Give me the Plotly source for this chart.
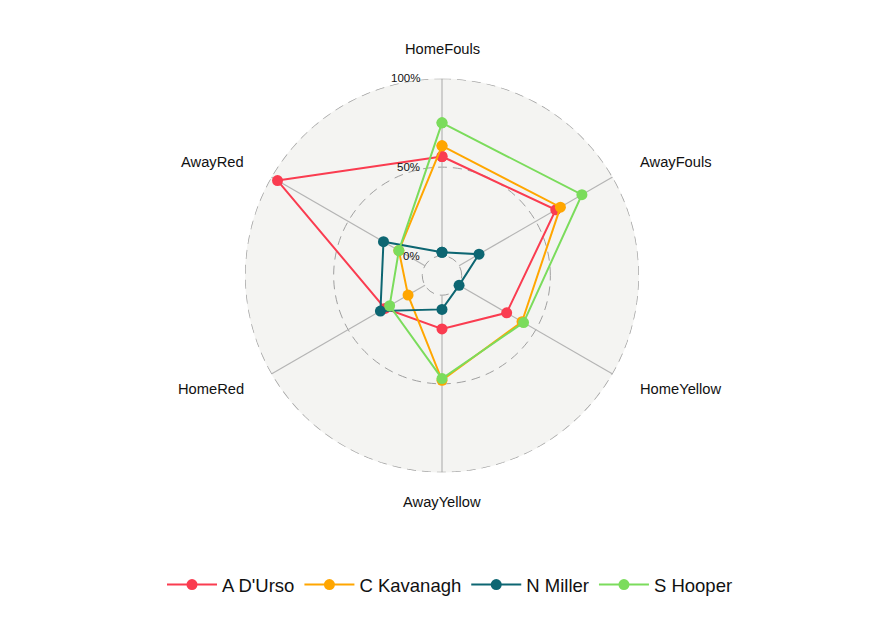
import math
import plotly.graph_objects as go

categories = ["HomeFouls", "AwayFouls", "HomeYellow", "AwayYellow", "HomeRed", "AwayRed"]
referees = ["A D'Urso", "C Kavanagh", "N Miller", "S Hooper"]
a_durso = [0.56, 0.63, 0.31, 0.19, 0.26, 0.96]
c_kavanagh = [0.62, 0.66, 0.41, 0.48, 0.11, 0.17]
n_miller = [0.02, 0.13, 0.00, 0.08, 0.29, 0.27]
s_hooper = [0.75, 0.80, 0.42, 0.47, 0.23, 0.17]
grid_vals = [0, 0.5, 1]
grid_labels = ["0%", "50%", "100%"]
colors = ["#FA3C50", "#FFA600", "#0D6672", "#7BDC5C"]

series = [a_durso, c_kavanagh, n_miller, s_hooper]

OFF = 8  # page body margin
W, H = 879 - OFF, 625 - OFF
CX, CY, R = 442.0 - OFF, 275.5 - OFF, 197.0
RMIN = -1.0 / 9.0
FONT = "Liberation Sans, Arial, Helvetica"
GRID_COL = "#A0A0A0"
GRID_DASH = "9px,6px"

n = len(categories)
step = 360.0 / n
cat_theta = [i * step for i in range(n)]

fig = go.Figure()

# spokes from 0% to 100%
for t in cat_theta:
    fig.add_trace(go.Scatterpolar(
        r=[0, 1], theta=[t, t], mode="lines",
        line=dict(color="#B4B4B4", width=1.2),
        hoverinfo="skip", showlegend=False))

# outer 100% dashed circle
ring_theta = [k * 2.0 for k in range(181)]
fig.add_trace(go.Scatterpolar(
    r=[grid_vals[-1]] * len(ring_theta), theta=ring_theta, mode="lines",
    line=dict(color=GRID_COL, width=1.4, dash=GRID_DASH),
    hoverinfo="skip", showlegend=False))

for name, vals, col in zip(referees, series, colors):
    fig.add_trace(go.Scatterpolar(
        r=vals + vals[:1], theta=cat_theta + cat_theta[:1],
        mode="lines+markers", name=name,
        line=dict(color=col, width=2),
        marker=dict(color=col, size=11)))

dom_x = [(CX - R) / W, (CX + R) / W]
dom_y = [1 - (CY + R) / H, 1 - (CY - R) / H]


def to_paper(px, py):
    return px / W, 1 - py / H


annotations = []
# axis labels
lab_r = 1.15 * R
for c, t in zip(categories, cat_theta):
    ang = math.radians(90 - t)
    px = CX + lab_r * math.cos(ang)
    py = CY - lab_r * math.sin(ang)
    cosv = math.cos(ang)
    if abs(cosv) < 1e-6:
        xa = "center"
    elif cosv > 0:
        xa = "left"
    else:
        xa = "right"
    x, y = to_paper(px, py)
    annotations.append(dict(x=x, y=y, xref="paper", yref="paper", text=c,
                            showarrow=False, xanchor=xa, yanchor="middle",
                            font=dict(family=FONT, size=14.7, color="#111111")))
# radial grid labels
for v, t in zip(grid_vals, grid_labels):
    rr = (v - RMIN) / (1 - RMIN) * R
    x, y = to_paper(CX - 20, CY - rr)
    annotations.append(dict(x=x, y=y, xref="paper", yref="paper", text=t,
                            showarrow=False, xanchor="right", yanchor="middle",
                            font=dict(family=FONT, size=11.5, color="#111111")))

fig.update_layout(
    width=W, height=H,
    margin=dict(l=0, r=0, t=0, b=0),
    paper_bgcolor="white",
    font=dict(family=FONT, color="#111111"),
    polar=dict(
        domain=dict(x=dom_x, y=dom_y),
        bgcolor="#F4F4F2",
        radialaxis=dict(range=[RMIN, 1.0], tickvals=grid_vals[:-1], showticklabels=False,
                        ticks="", showline=False, gridcolor=GRID_COL, griddash=GRID_DASH,
                        gridwidth=1.4),
        angularaxis=dict(direction="clockwise", rotation=90, showgrid=False,
                         showticklabels=False, ticks="", showline=False),
    ),
    legend=dict(orientation="h", x=(450 - OFF) / W, xanchor="center",
                y=1 - (585 - OFF) / H, yanchor="middle",
                font=dict(family=FONT, size=18.5, color="#111111"),
                itemwidth=50),
    annotations=annotations,
)

fig.write_html("out.html")
